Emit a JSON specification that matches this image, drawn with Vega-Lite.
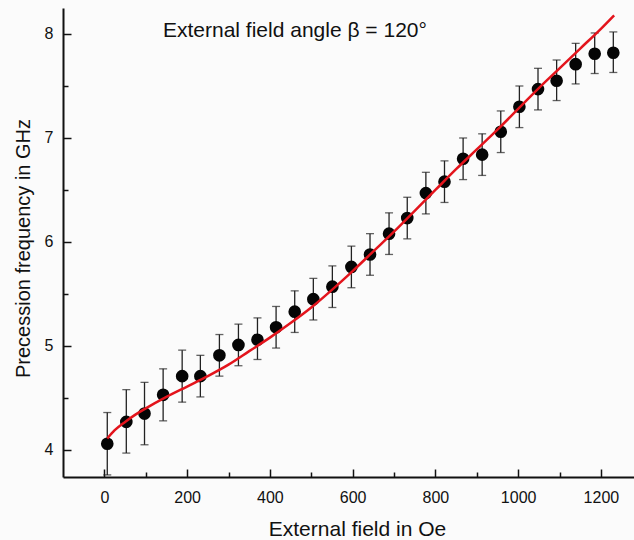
{
  "$schema": "https://vega.github.io/schema/vega-lite/v6.json",
  "width": 571,
  "height": 469,
  "autosize": {"type": "none"},
  "padding": {"left": 63, "top": 8, "right": 0, "bottom": 63},
  "background": "#fbfbfb",
  "config": {
    "view": {"stroke": null},
    "font": "Liberation Sans",
    "axis": {"grid": false, "labelFont": "Liberation Sans", "titleFont": "Liberation Sans", "labelColor": "#111", "titleColor": "#111", "tickColor": "#111", "domainColor": "#111"}
  },
  "title": {
    "text": "External field angle β = 120°",
    "anchor": "start",
    "frame": "group",
    "dx": 100,
    "dy": 50,
    "offset": 0,
    "baseline": "alphabetic",
    "fontSize": 21,
    "font": "Liberation Sans",
    "fontWeight": "normal",
    "color": "#111"
  },
  "datasets": {
    "points": [
      {"H": 7, "f": 4.06, "lo": 3.76, "hi": 4.36},
      {"H": 53, "f": 4.27, "lo": 3.97, "hi": 4.58},
      {"H": 97, "f": 4.35, "lo": 4.05, "hi": 4.65},
      {"H": 142, "f": 4.53, "lo": 4.28, "hi": 4.78},
      {"H": 188, "f": 4.71, "lo": 4.46, "hi": 4.96},
      {"H": 232, "f": 4.71, "lo": 4.51, "hi": 4.91},
      {"H": 278, "f": 4.91, "lo": 4.71, "hi": 5.11},
      {"H": 324, "f": 5.01, "lo": 4.81, "hi": 5.21},
      {"H": 370, "f": 5.06, "lo": 4.87, "hi": 5.27},
      {"H": 415, "f": 5.18, "lo": 4.98, "hi": 5.38},
      {"H": 460, "f": 5.33, "lo": 5.13, "hi": 5.53},
      {"H": 505, "f": 5.45, "lo": 5.25, "hi": 5.65},
      {"H": 551, "f": 5.57, "lo": 5.37, "hi": 5.77},
      {"H": 597, "f": 5.76, "lo": 5.56, "hi": 5.96},
      {"H": 642, "f": 5.88, "lo": 5.68, "hi": 6.08},
      {"H": 688, "f": 6.08, "lo": 5.88, "hi": 6.28},
      {"H": 732, "f": 6.23, "lo": 6.03, "hi": 6.43},
      {"H": 777, "f": 6.47, "lo": 6.27, "hi": 6.67},
      {"H": 822, "f": 6.58, "lo": 6.38, "hi": 6.78},
      {"H": 867, "f": 6.80, "lo": 6.60, "hi": 7.00},
      {"H": 913, "f": 6.84, "lo": 6.64, "hi": 7.04},
      {"H": 958, "f": 7.06, "lo": 6.86, "hi": 7.26},
      {"H": 1003, "f": 7.30, "lo": 7.10, "hi": 7.50},
      {"H": 1048, "f": 7.47, "lo": 7.27, "hi": 7.67},
      {"H": 1093, "f": 7.55, "lo": 7.36, "hi": 7.75},
      {"H": 1139, "f": 7.71, "lo": 7.52, "hi": 7.91},
      {"H": 1185, "f": 7.81, "lo": 7.62, "hi": 8.01},
      {"H": 1230, "f": 7.82, "lo": 7.63, "hi": 8.02}
    ],
    "curve": [
      {"H": 7, "f": 4.11},
      {"H": 25, "f": 4.19},
      {"H": 50, "f": 4.27},
      {"H": 75, "f": 4.34},
      {"H": 100, "f": 4.40},
      {"H": 150, "f": 4.51},
      {"H": 200, "f": 4.61},
      {"H": 250, "f": 4.71},
      {"H": 300, "f": 4.82},
      {"H": 350, "f": 4.95},
      {"H": 400, "f": 5.08},
      {"H": 450, "f": 5.22},
      {"H": 500, "f": 5.37},
      {"H": 550, "f": 5.54},
      {"H": 600, "f": 5.72},
      {"H": 650, "f": 5.91},
      {"H": 700, "f": 6.10},
      {"H": 750, "f": 6.30},
      {"H": 800, "f": 6.50},
      {"H": 850, "f": 6.70},
      {"H": 900, "f": 6.89},
      {"H": 950, "f": 7.08},
      {"H": 1000, "f": 7.28},
      {"H": 1050, "f": 7.48},
      {"H": 1100, "f": 7.67},
      {"H": 1150, "f": 7.86},
      {"H": 1200, "f": 8.05},
      {"H": 1232, "f": 8.18}
    ]
  },
  "resolve": {"axis": {"x": "independent", "y": "independent"}},
  "layer": [
    {
      "data": {"name": "points"},
      "mark": {"type": "rule", "color": "#222", "strokeWidth": 1.3},
      "encoding": {
        "x": {"field": "H", "type": "quantitative", "scale": {"domain": [-100, 1280], "nice": false, "zero": false},
          "axis": {"orient": "bottom", "values": [100, 300, 500, 700, 900, 1100], "labels": false, "domain": false, "title": null, "tickSize": -5, "tickWidth": 1.5}},
        "y": {"field": "lo", "type": "quantitative", "scale": {"domain": [3.74, 8.25], "nice": false, "zero": false},
          "axis": {"orient": "left", "values": [4.5, 5.5, 6.5, 7.5], "labels": false, "domain": false, "title": null, "tickSize": -5, "tickWidth": 1.5}},
        "y2": {"field": "hi"}
      }
    },
    {
      "data": {"name": "points"},
      "mark": {"type": "tick", "orient": "horizontal", "color": "#222", "size": 8, "thickness": 1.3},
      "encoding": {
        "x": {"field": "H", "type": "quantitative", "axis": null},
        "y": {"field": "lo", "type": "quantitative", "axis": null}
      }
    },
    {
      "data": {"name": "points"},
      "mark": {"type": "tick", "orient": "horizontal", "color": "#222", "size": 8, "thickness": 1.3},
      "encoding": {
        "x": {"field": "H", "type": "quantitative", "axis": null},
        "y": {"field": "hi", "type": "quantitative", "axis": null}
      }
    },
    {
      "data": {"name": "points"},
      "mark": {"type": "circle", "color": "#050505", "size": 160, "opacity": 1},
      "encoding": {
        "x": {"field": "H", "type": "quantitative", "axis": null},
        "y": {"field": "f", "type": "quantitative", "axis": null}
      }
    },
    {
      "data": {"name": "curve"},
      "mark": {"type": "line", "color": "#e3141c", "strokeWidth": 2.5, "interpolate": "monotone"},
      "encoding": {
        "x": {"field": "H", "type": "quantitative",
          "axis": {"orient": "bottom", "values": [0, 200, 400, 600, 800, 1000, 1200], "format": "d", "title": "External field in Oe",
            "titleFontSize": 21, "titleFontWeight": "normal", "titleX": 294, "titleY": 58, "titleBaseline": "alphabetic", "titleAlign": "center",
            "labelFontSize": 16, "labelPadding": 20, "labelFlush": false, "labelOverlap": false,
            "tickSize": -8, "tickWidth": 1.5, "domainWidth": 2}},
        "y": {"field": "f", "type": "quantitative",
          "axis": {"orient": "left", "values": [4, 5, 6, 7, 8], "format": "d", "title": "Precession frequency in GHz",
            "titleFontSize": 20, "titleFontWeight": "normal", "titleX": -34, "titleY": 240, "titleAngle": -90, "titleBaseline": "alphabetic", "titleAlign": "center",
            "labelFontSize": 16, "labelPadding": 18, "labelFlush": false, "labelOverlap": false,
            "tickSize": -8, "tickWidth": 1.5, "domainWidth": 2}}
      }
    }
  ]
}
